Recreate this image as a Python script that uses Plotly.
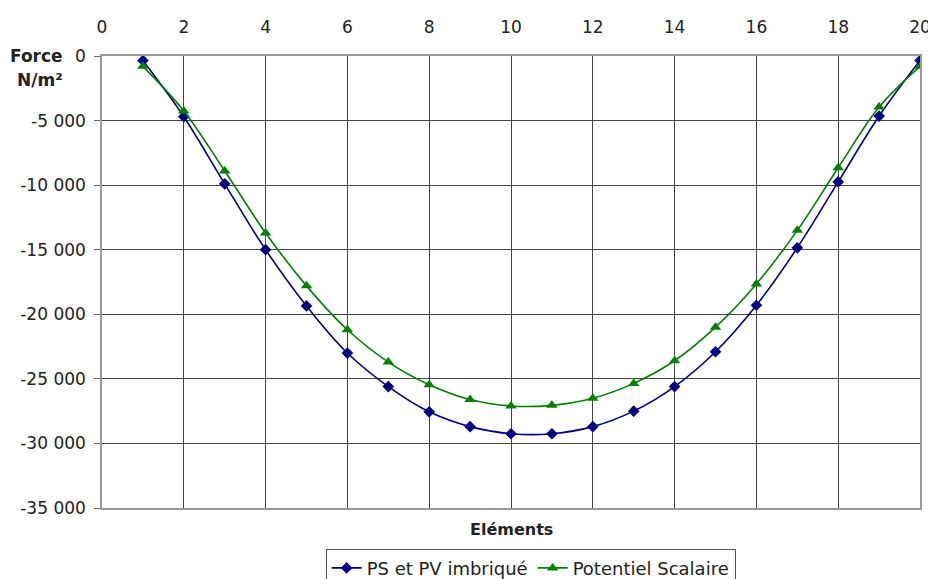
import plotly.graph_objects as go

# Eléments 1..20
elements = list(range(1, 21))

# PS et PV imbriqué (N/m²)
ps_pv = [-350, -4700, -9900, -15000, -19350, -23000, -25600, -27550, -28700, -29250,
         -29250, -28700, -27500, -25600, -22900, -19300, -14850, -9750, -4650, -350]

# Potentiel Scalaire (N/m²)
pot_scal = [-800, -4250, -8900, -13700, -17800, -21200, -23700, -25450, -26600, -27100,
            -27050, -26500, -25350, -23600, -21000, -17650, -13500, -8650, -3950, -800]

y_ticks = [0, -5000, -10000, -15000, -20000, -25000, -30000, -35000]
y_text = ["0", "-5 000", "-10 000", "-15 000", "-20 000", "-25 000", "-30 000", "-35 000"]
x_ticks = list(range(0, 21, 2))

fnt = "DejaVu Sans, Arial, sans-serif"

fig = go.Figure()
fig.add_trace(go.Scatter(
    x=elements, y=ps_pv, name="PS et PV imbriqué",
    mode="lines+markers", line=dict(color="#000080", width=1.6, shape="spline"),
    marker=dict(symbol="diamond", size=9, color="#000080")))
fig.add_trace(go.Scatter(
    x=elements, y=pot_scal, name="Potentiel Scalaire",
    mode="lines+markers", line=dict(color="#008000", width=1.6, shape="spline"),
    marker=dict(symbol="triangle-up", size=10, color="#008000")))

# page body adds 8px offset, so margins are shifted accordingly
fig.update_layout(
    width=936, height=579,
    margin=dict(l=94, r=24, t=48, b=79, autoexpand=False),
    paper_bgcolor="white", plot_bgcolor="white",
    font=dict(family=fnt, size=17, color="#222"),
    xaxis=dict(range=[0, 20], side="top", tickvals=x_ticks, ticks="",
               showgrid=True, gridcolor="#444", gridwidth=1,
               showline=True, linecolor="#999", linewidth=1.5, mirror=True,
               zeroline=False, automargin=False, ticklabelstandoff=14),
    xaxis2=dict(range=[0, 20], overlaying="x", side="bottom", tickvals=x_ticks,
                ticks="outside", ticklen=5, tickcolor="#444",
                showticklabels=False, showgrid=False, showline=False),
    yaxis=dict(range=[-35000, 0], tickvals=y_ticks, ticktext=y_text,
               ticks="outside", ticklen=6, tickcolor="#666",
               showgrid=True, gridcolor="#444", gridwidth=1,
               showline=True, linecolor="#999", linewidth=1.5, mirror=True,
               zeroline=False, automargin=False, ticklabelstandoff=5),
    legend=dict(orientation="h", x=0.524, xanchor="center", y=-0.09, yanchor="top",
                bordercolor="#555", borderwidth=1, font=dict(size=18),
                itemwidth=30, tracegroupgap=0),
    showlegend=True,
)

fig.add_annotation(text="<b>Eléments</b>", xref="paper", yref="paper",
                   x=0.5, y=-0.022, yanchor="top", showarrow=False, font=dict(size=16))
fig.add_annotation(text="<b>Force</b>", xref="paper", yref="paper",
                   x=-0.045, y=1.0, xanchor="right", yanchor="middle",
                   showarrow=False, font=dict(size=17))
fig.add_annotation(text="<b>N/m²</b>", xref="paper", yref="paper",
                   x=-0.045, y=0.947, xanchor="right", yanchor="middle",
                   showarrow=False, font=dict(size=17))

fig.write_html("out.html")
